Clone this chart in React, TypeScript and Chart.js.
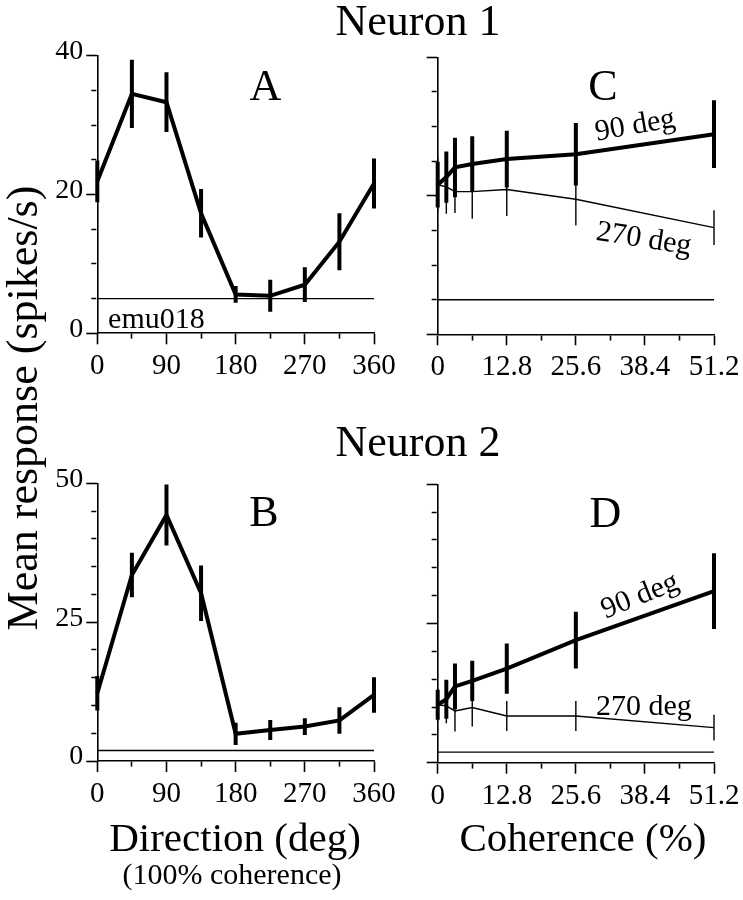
import React, { useEffect, useRef } from 'react';
import { Chart, registerables } from 'chart.js';

Chart.register(...registerables);

// ---------- data ----------
const directions = [0, 45, 90, 135, 180, 225, 270, 315, 360];
const coherences = [0, 1.6, 3.2, 6.4, 12.8, 25.6, 51.2];
const directionTickLabels = [0, 90, 180, 270, 360];
const coherenceTickLabels = [0, 12.8, 25.6, 38.4, 51.2];
const neuron1YTicks = [0, 20, 40];
const neuron2YTicks = [0, 25, 50];

// Neuron 1
const n1Direction = [21.9, 34.5, 33.3, 17.3, 5.6, 5.4, 7.0, 13.2, 21.6];
const n1DirectionErr = [3.0, 4.9, 4.3, 3.5, 1.2, 2.3, 2.5, 4.1, 3.6];
const n1Baseline = 5.0;
const n1Pref90 = [21.6, 22.7, 24.1, 24.6, 25.3, 26.0, 28.9];
const n1Pref90Err = [3.3, 3.7, 4.3, 4.0, 4.1, 4.5, 4.9];
const n1Null270 = [21.6, 21.3, 20.6, 20.6, 20.9, 19.5, 15.4];
const n1Null270Err = [4.0, 3.9, 3.1, 3.9, 3.8, 3.8, 2.5];

// Neuron 2
const n2Direction = [12.2, 33.5, 44.3, 30.2, 4.9, 5.6, 6.2, 7.3, 11.9];
const n2DirectionErr = [3.1, 4.0, 5.5, 5.0, 2.0, 1.8, 1.5, 2.4, 3.2];
const n2Baseline = 1.9;
const n2Pref90 = [10.4, 11.4, 13.7, 14.7, 16.9, 22.0, 30.8];
const n2Pref90Err = [2.7, 3.5, 4.1, 3.6, 4.5, 5.1, 6.8];
const n2Null270 = [10.4, 10.2, 9.3, 9.9, 8.4, 8.4, 6.3];
const n2Null270Err = [3.0, 3.1, 3.7, 3.4, 2.7, 2.7, 2.3];

// ---------- helpers ----------
const FONT = '"Liberation Serif", "Times New Roman", serif';
const W = 743;
const H = 900;
const Y_W = 80;
const X_H = 60;

const near = (v: number, list: number[]) => list.some((m) => Math.abs(m - v) < 1e-6);
const fmt = (v: number) => String(Math.round(v * 10) / 10);

function lineData(xs: number[], ys: number[]) {
  return xs.map((x, i) => ({ x, y: ys[i] }));
}
function errData(xs: number[], ys: number[], es: number[]) {
  const out: any[] = [];
  xs.forEach((x, i) => {
    out.push({ x, y: ys[i] - es[i] }, { x, y: ys[i] + es[i] }, { x, y: null });
  });
  return out;
}
function baseData(xMax: number, v: number) {
  return [
    { x: 0, y: v },
    { x: xMax, y: v },
  ];
}

function ds(data: any[], width: number) {
  return {
    data,
    borderColor: '#000',
    backgroundColor: '#000',
    borderWidth: width,
    pointRadius: 0,
    pointHoverRadius: 0,
    tension: 0,
    fill: false,
    spanGaps: false,
    clip: false,
  };
}

type Note = { text: string; x: number; y: number; angle: number; align: CanvasTextAlign; base: CanvasTextBaseline };

type Panel = {
  L: number;
  T: number;
  R: number;
  B: number;
  xMax: number;
  xStep: number;
  xMajor: number[];
  yMax: number;
  yStep: number;
  yMajor: number[];
  yLabels: boolean;
  datasets: any[];
  notes: Note[];
};

function notesPlugin(notes: Note[]) {
  return {
    id: 'notes',
    afterDatasetsDraw(chart: any) {
      const ctx = chart.ctx;
      const xs = chart.scales.x;
      const ys = chart.scales.y;
      notes.forEach((n) => {
        ctx.save();
        ctx.translate(xs.getPixelForValue(n.x), ys.getPixelForValue(n.y));
        ctx.rotate((n.angle * Math.PI) / 180);
        ctx.font = `30px ${FONT}`;
        ctx.fillStyle = '#000';
        ctx.textAlign = n.align;
        ctx.textBaseline = n.base;
        ctx.fillText(n.text, 0, 0);
        ctx.restore();
      });
    },
  };
}

function buildConfig(p: Panel): any {
  return {
    type: 'line',
    data: { datasets: p.datasets },
    plugins: [notesPlugin(p.notes)],
    options: {
      responsive: false,
      animation: false,
      devicePixelRatio: 1,
      events: [],
      layout: {
        padding: { left: p.L - Y_W, top: p.T, right: W - p.R, bottom: H - p.B - X_H },
      },
      plugins: { legend: { display: false }, tooltip: { enabled: false }, title: { display: false } },
      scales: {
        x: {
          type: 'linear',
          min: 0,
          max: p.xMax,
          offset: false,
          border: { display: true, color: '#000', width: 1.6 },
          grid: {
            drawOnChartArea: false,
            drawTicks: true,
            offset: false,
            tickLength: 11,
            tickWidth: 1.6,
            tickColor: '#000',
            tickBorderDash: (ctx: any) => (ctx.tick && near(ctx.tick.value, p.xMajor) ? [] : [5, 100]),
          },
          ticks: {
            stepSize: p.xStep,
            autoSkip: false,
            maxRotation: 0,
            minRotation: 0,
            padding: 5,
            color: '#000',
            font: { family: FONT, size: 29 },
            callback: (v: number) => (near(v, p.xMajor) ? fmt(v) : ''),
          },
          afterFit: (s: any) => {
            s.height = X_H;
            s.paddingLeft = 0;
            s.paddingRight = 0;
          },
        },
        y: {
          type: 'linear',
          min: 0,
          max: p.yMax,
          border: { display: true, color: '#000', width: 1.6 },
          grid: {
            drawOnChartArea: false,
            drawTicks: true,
            tickLength: 11,
            tickWidth: 1.6,
            tickColor: '#000',
            tickBorderDash: (ctx: any) => (ctx.tick && near(ctx.tick.value, p.yMajor) ? [] : [0, 5, 5, 100]),
          },
          ticks: {
            stepSize: p.yStep,
            autoSkip: false,
            padding: 3,
            labelOffset: -4,
            color: '#000',
            font: { family: FONT, size: 28 },
            callback: (v: number) => (p.yLabels && near(v, p.yMajor) ? fmt(v) : ''),
          },
          afterFit: (s: any) => {
            s.width = Y_W;
            s.paddingTop = 0;
            s.paddingBottom = 0;
          },
        },
      },
    },
  };
}

const panels: Panel[] = [
  {
    L: 97.3, T: 55.7, R: 374, B: 333.3,
    xMax: 360, xStep: 45, xMajor: directionTickLabels,
    yMax: 40, yStep: 5, yMajor: neuron1YTicks, yLabels: true,
    datasets: [
      ds(lineData(directions, n1Direction), 4),
      ds(errData(directions, n1Direction, n1DirectionErr), 4),
      ds(baseData(360, n1Baseline), 1.4),
    ],
    notes: [{ text: 'emu018', x: 14, y: 0.8, angle: 0, align: 'left', base: 'alphabetic' }],
  },
  {
    L: 437.7, T: 57.3, R: 714, B: 334.3,
    xMax: 51.2, xStep: 6.4, xMajor: coherenceTickLabels,
    yMax: 40, yStep: 5, yMajor: neuron1YTicks, yLabels: false,
    datasets: [
      ds(lineData(coherences, n1Pref90), 4),
      ds(errData(coherences, n1Pref90, n1Pref90Err), 4),
      ds(lineData(coherences, n1Null270), 1.4),
      ds(errData(coherences, n1Null270, n1Null270Err), 1.4),
      ds(baseData(51.2, n1Baseline), 1.4),
    ],
    notes: [
      { text: '90 deg', x: 36.6, y: 30.1, angle: -10, align: 'center', base: 'middle' },
      { text: '270 deg', x: 38.2, y: 13.7, angle: 9, align: 'center', base: 'middle' },
    ],
  },
  {
    L: 97.3, T: 483.3, R: 374, B: 761,
    xMax: 360, xStep: 45, xMajor: directionTickLabels,
    yMax: 50, yStep: 5, yMajor: neuron2YTicks, yLabels: true,
    datasets: [
      ds(lineData(directions, n2Direction), 4),
      ds(errData(directions, n2Direction, n2DirectionErr), 4),
      ds(baseData(360, n2Baseline), 1.4),
    ],
    notes: [],
  },
  {
    L: 437.7, T: 484.3, R: 714, B: 762.7,
    xMax: 51.2, xStep: 6.4, xMajor: coherenceTickLabels,
    yMax: 50, yStep: 5, yMajor: neuron2YTicks, yLabels: false,
    datasets: [
      ds(lineData(coherences, n2Pref90), 4),
      ds(errData(coherences, n2Pref90, n2Pref90Err), 4),
      ds(lineData(coherences, n2Null270), 1.4),
      ds(errData(coherences, n2Null270, n2Null270Err), 1.4),
      ds(baseData(51.2, n2Baseline), 1.4),
    ],
    notes: [
      { text: '90 deg', x: 37.5, y: 29.9, angle: -22, align: 'center', base: 'middle' },
      { text: '270 deg', x: 38.2, y: 10.05, angle: 0, align: 'center', base: 'middle' },
    ],
  },
];

function PanelCanvas({ panel }: { panel: Panel }) {
  const ref = useRef<HTMLCanvasElement | null>(null);
  useEffect(() => {
    if (!ref.current) return;
    const chart = new Chart(ref.current, buildConfig(panel));
    return () => chart.destroy();
  }, [panel]);
  return (
    <canvas
      ref={ref}
      width={W}
      height={H}
      style={{ position: 'absolute', left: 0, top: 0, width: W, height: H }}
    />
  );
}

function Label({ x, base, size, text }: { x: number; base: number; size: number; text: string }) {
  return (
    <div
      style={{
        position: 'absolute',
        left: x,
        top: base - 0.8375 * size,
        transform: 'translateX(-50%)',
        fontFamily: FONT,
        fontSize: size,
        lineHeight: 1,
        whiteSpace: 'nowrap',
        color: '#000',
      }}
    >
      {text}
    </div>
  );
}

export default function App() {
  const ySize = 44;
  const yCx = 23;
  const yCy = 408;
  return (
    <div style={{ position: 'absolute', left: 0, top: 0, width: W, height: H, background: '#fff', overflow: 'hidden' }}>
      {panels.map((p, i) => (
        <PanelCanvas key={i} panel={p} />
      ))}
      <Label x={418} base={36} size={44} text="Neuron 1" />
      <Label x={418} base={457} size={44} text="Neuron 2" />
      <Label x={265.5} base={101} size={44} text="A" />
      <Label x={603} base={101} size={44} text="C" />
      <Label x={264} base={527} size={44} text="B" />
      <Label x={605.5} base={528} size={44} text="D" />
      <Label x={235} base={851} size={41} text="Direction (deg)" />
      <Label x={232} base={884} size={30} text="(100% coherence)" />
      <Label x={583} base={851} size={41} text="Coherence (%)" />
      <div
        style={{
          position: 'absolute',
          left: yCx - 300,
          top: yCy - ySize / 2,
          width: 600,
          height: ySize,
          lineHeight: `${ySize}px`,
          textAlign: 'center',
          transform: 'rotate(-90deg)',
          fontFamily: FONT,
          fontSize: ySize,
          whiteSpace: 'nowrap',
          color: '#000',
        }}
      >
        Mean response (spikes/s)
      </div>
    </div>
  );
}
